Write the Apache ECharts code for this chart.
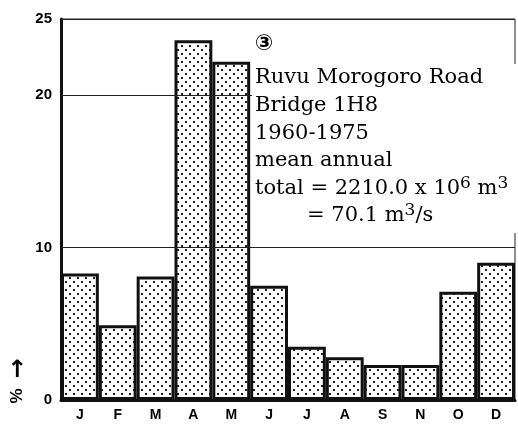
<!DOCTYPE html>
<html>
<head>
<meta charset="utf-8">
<script src="https://cdn.jsdelivr.net/npm/echarts@6/dist/echarts.min.js"></script>
<style>
  html, body { margin: 0; padding: 0; background: #fff; }
  #chart { width: 518px; height: 429px; }
</style>
</head>
<body>
<div id="chart"></div>
<script>
// monthly share of mean annual flow, %
var months = ['J', 'F', 'M', 'A', 'M', 'J', 'J', 'A', 'S', 'N', 'O', 'D'];
var percent = [8.3, 4.9, 8.1, 23.6, 22.2, 7.5, 3.5, 2.8, 2.3, 2.3, 7.1, 9.0];
var yTicks = [0, 10, 20, 25];
var noteLines = ['Ruvu Morogoro Road', 'Bridge 1H8', '1960-1975', 'mean annual',
  'total = 2210.0 x 10{sup|6} m{sup|3}'];
var noteLast = '= 70.1 m{sup|3}/s';

// dotted screen fill
var dots = document.createElement('canvas');
dots.width = 8;
dots.height = 8;
var ctx = dots.getContext('2d');
ctx.fillStyle = '#fff';
ctx.fillRect(0, 0, 8, 8);
ctx.fillStyle = '#222';
ctx.fillRect(1, 1, 2, 2);
ctx.fillRect(5, 5, 2, 2);

var chart = echarts.init(document.getElementById('chart'), null, { renderer: 'canvas' });

var serif = 'DejaVu Serif';
var rich = {
  sup: { fontFamily: serif, fontSize: 17, verticalAlign: 'top', padding: [0, 0, 10, 0] }
};

var graphics = [{
  type: 'rect',
  shape: { x: 252, y: 64, width: 266, height: 169 },
  style: { fill: '#fff' },
  z: 50
}, {
  type: 'text',
  x: 264, y: 44,
  style: { text: '③', font: 'bold 22px DejaVu Sans', fill: '#000', align: 'center', verticalAlign: 'middle' },
  z: 51
}, {
  type: 'text',
  x: 17, y: 396,
  rotation: Math.PI / 2,
  style: { text: '%', font: 'bold 17px Liberation Sans', fill: '#000', align: 'center', verticalAlign: 'middle' },
  z: 51
}, {
  type: 'text',
  x: 17, y: 371,
  style: { text: '\u2191', font: 'bold 24px DejaVu Sans', fill: '#000', align: 'center', verticalAlign: 'middle' },
  z: 51
}];

noteLines.forEach(function (t, i) {
  graphics.push({
    type: 'text',
    x: 255, y: 78 + i * 27.6,
    style: { text: t, fontFamily: serif, fontSize: 21, fill: '#000', verticalAlign: 'middle', rich: rich },
    z: 51
  });
});
graphics.push({
  type: 'text',
  x: 307, y: 78 + 5 * 27.6,
  style: { text: noteLast, fontFamily: serif, fontSize: 21, fill: '#000', verticalAlign: 'middle', rich: rich },
  z: 51
});

var option = {
  animation: false,
  backgroundColor: '#fff',
  grid: {
    left: 61, right: 3, top: 19, bottom: 29,
    show: true,
    borderColor: '#222',
    borderWidth: 1
  },
  xAxis: {
    type: 'category',
    data: months,
    boundaryGap: true,
    axisTick: { show: false },
    axisLine: { lineStyle: { color: '#111', width: 3 } },
    axisLabel: {
      color: '#000',
      fontFamily: 'Liberation Sans',
      fontWeight: 'bold',
      fontSize: 14,
      margin: 8
    }
  },
  yAxis: {
    type: 'value',
    min: 0,
    max: 25,
    interval: 5,
    axisTick: { show: false },
    splitLine: { show: false },
    axisLine: { show: true, lineStyle: { color: '#111', width: 3 } },
    axisLabel: {
      color: '#000',
      fontFamily: 'Liberation Sans',
      fontWeight: 'bold',
      fontSize: 15,
      margin: 9,
      padding: [0, 0, 5, 0],
      formatter: function (v) {
        return yTicks.indexOf(v) >= 0 ? String(v) : '';
      }
    }
  },
  series: [{
    type: 'bar',
    data: percent,
    barWidth: '100%',
    barCategoryGap: 0,
    itemStyle: {
      color: { image: dots, repeat: 'repeat' },
      borderColor: '#111',
      borderWidth: 3
    },
    markLine: {
      silent: true,
      symbol: 'none',
      label: { show: false },
      lineStyle: { color: '#222', width: 1, type: 'solid' },
      data: [{ yAxis: 10 }, { yAxis: 20 }, { yAxis: 25 }]
    }
  }],
  graphic: graphics
};

chart.setOption(option);
</script>
</body>
</html>
